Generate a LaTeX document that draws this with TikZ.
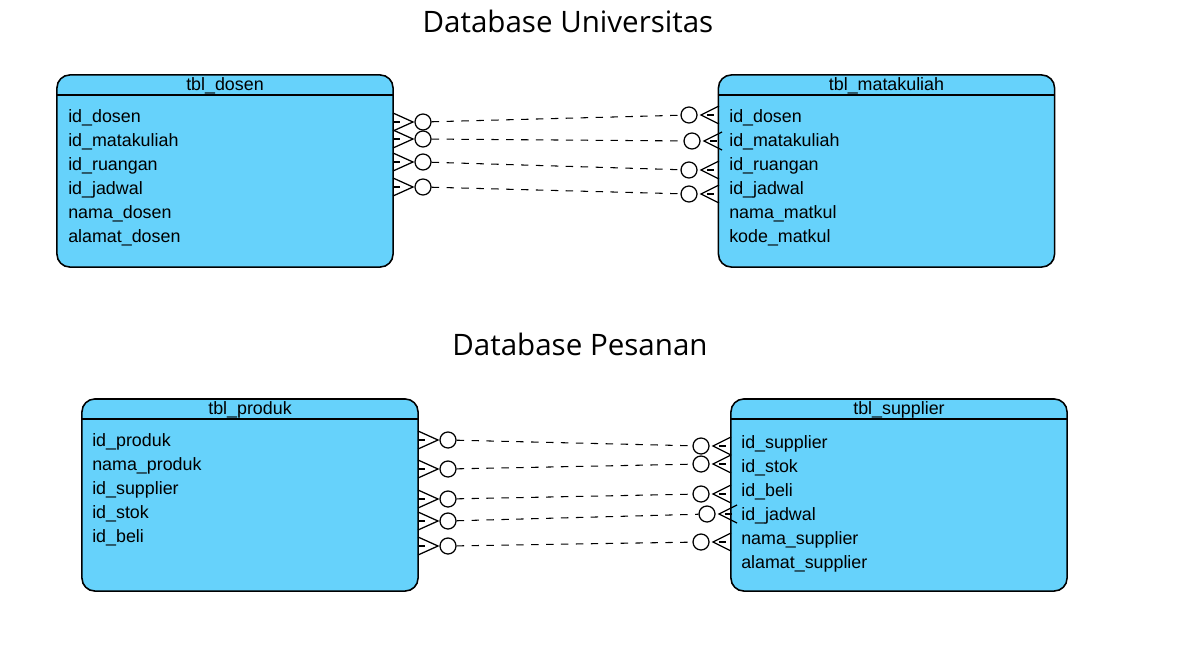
\documentclass[tikz,border=0pt]{standalone}
\usepackage{fontspec}
\setmainfont{Liberation Sans}
\newfontfamily\titlefont{Open Sans}
\usetikzlibrary{
  positioning,
  calc,         % Calculations $...$
}
\definecolor{tblblue}{HTML}{66D2FB}
% Crow's foot (zero or many) on the right edge of a table
\newcommand{\manyout}[3]{
  \draw[fk] (#2,#3-9) -- (#2+20,#3) -- (#2,#3+9);
  \draw[fk] (#2,#3) -- (#2+7,#3);
  \node[fk circle] (#1) at (#2+30,#3) {};
}
% Crow's foot (zero or many) on the left edge of a table
\newcommand{\manyin}[3]{
  \draw[fk] (#2,#3-9) -- (#2-18,#3) -- (#2,#3+9);
  \draw[fk] (#2-12,#3) -- (#2-5,#3);
  \node[fk circle] (#1) at (#2-30,#3) {};
}
\tikzset{
  table/.style={
    draw,
    fill=tblblue,
    line width=1.1pt,
    rounded corners=0.32cm,
    minimum width=8.4cm,
    minimum height=4.8cm,
    inner sep=0
  },
  head line/.style={line width=1.1pt},
  tbl head/.style={
    anchor=base,
    inner sep=0,
    font=\fontsize{12.7}{15}\selectfont
  },
  field/.style={
    anchor=base west,
    inner sep=0,
    font=\fontsize{12.7}{15}\selectfont
  },
  title/.style={
    anchor=base,
    inner sep=0,
    font=\titlefont\fontsize{21}{25}\selectfont
  },
  fk/.style={line width=0.9pt},
  fk circle/.style={
    draw,
    circle,
    fill=white,
    minimum size=0.4cm,
    inner sep=0,
    line width=0.9pt
  },
  link/.style={
    dash pattern=on 5.3pt off 5.3pt,
    line width=0.75pt
  }
}
\begin{document}
\begin{tikzpicture}[x=0.025cm,y=-0.025cm]
\useasboundingbox (0,0) rectangle (1185,664);
% Titles
\node[title] (univ) at (568,32)  {Database Universitas};
\node[title] (psn)  at (580,355) {Database Pesanan};
% Tables
\node[table] (dosen) at (225,171)   {};
\node[table] (mk)    at (886.5,171) {};
\node[table] (prod)  at (250,495)   {};
\node[table] (supp)  at (899,495)   {};
\draw[head line] ($(dosen.north west)+(0,21)$) -- ($(dosen.north east)+(0,21)$);
\draw[head line] ($(mk.north west)+(0,21)$)    -- ($(mk.north east)+(0,21)$);
\draw[head line] ($(prod.north west)+(0,21)$)  -- ($(prod.north east)+(0,21)$);
\draw[head line] ($(supp.north west)+(0,21)$)  -- ($(supp.north east)+(0,21)$);
\node[tbl head] (dosen-h) at ($(dosen.north)+(0,16)$) {tbl\_dosen};
\node[tbl head] (mk-h)    at ($(mk.north)+(0,16)$)    {tbl\_matakuliah};
\node[tbl head] (prod-h)  at ($(prod.north)+(0,16)$)  {tbl\_produk};
\node[tbl head] (supp-h)  at ($(supp.north)+(0,16)$)  {tbl\_supplier};
% Fields
\node[field] (d1) at (68,122) {id\_dosen};
\node[field] (d2) at (68,146) {id\_matakuliah};
\node[field] (d3) at (68,170) {id\_ruangan};
\node[field] (d4) at (68,194) {id\_jadwal};
\node[field] (d5) at (68,218) {nama\_dosen};
\node[field] (d6) at (68,242) {alamat\_dosen};
\node[field] (m1) at (729,122) {id\_dosen};
\node[field] (m2) at (729,146) {id\_matakuliah};
\node[field] (m3) at (729,170) {id\_ruangan};
\node[field] (m4) at (729,194) {id\_jadwal};
\node[field] (m5) at (729,218) {nama\_matkul};
\node[field] (m6) at (729,242) {kode\_matkul};
\node[field] (p1) at (92,446) {id\_produk};
\node[field] (p2) at (92,470) {nama\_produk};
\node[field] (p3) at (92,494) {id\_supplier};
\node[field] (p4) at (92,518) {id\_stok};
\node[field] (p5) at (92,542) {id\_beli};
\node[field] (s1) at (741,448) {id\_supplier};
\node[field] (s2) at (741,472) {id\_stok};
\node[field] (s3) at (741,496) {id\_beli};
\node[field] (s4) at (741,520) {id\_jadwal};
\node[field] (s5) at (741,544) {nama\_supplier};
\node[field] (s6) at (741,568) {alamat\_supplier};
% Relation ends
\manyout{dl1}{393}{122}
\manyout{dl2}{393}{139}
\manyout{dl3}{393}{162}
\manyout{dl4}{393}{187}
\manyin{ml1}{719}{115}
\manyin{ml2}{722}{141}
\manyin{ml3}{719}{170}
\manyin{ml4}{719}{194}
\manyout{pl1}{418}{440}
\manyout{pl2}{418}{469}
\manyout{pl3}{418}{499}
\manyout{pl4}{418}{521}
\manyout{pl5}{418}{546}
\manyin{sl1}{731}{446}
\manyin{sl2}{731}{464}
\manyin{sl3}{731}{494}
\manyin{sl4}{737}{514}
\manyin{sl5}{731}{542}
% Relations
\draw[link] (dl1) -- (ml1);
\draw[link] (dl2) -- (ml2);
\draw[link] (dl3) -- (ml3);
\draw[link] (dl4) -- (ml4);
\draw[link] (pl1) -- (sl1);
\draw[link] (pl2) -- (sl2);
\draw[link] (pl3) -- (sl3);
\draw[link] (pl4) -- (sl4);
\draw[link] (pl5) -- (sl5);
\end{tikzpicture}
\end{document}
